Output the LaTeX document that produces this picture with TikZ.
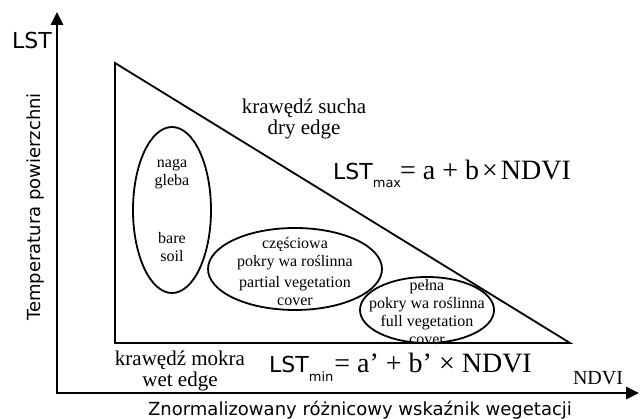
\documentclass[tikz,border=0pt]{standalone}
\usepackage{fontspec}
\setmainfont{Liberation Serif}
\setsansfont{DejaVu Sans}
\usetikzlibrary{arrows.meta,shapes.geometric}
\tikzset{
  axis/.style={line width=2.8pt,line join=miter,
    {Triangle[length=13pt,width=12pt]}-{Triangle[length=13pt,width=12pt]}},
  edgeline/.style={line width=1.8pt,line join=miter},
  zone/.style={draw,ellipse,line width=1.8pt,inner sep=0pt},
  zonetext/.style={align=center,font=\fontsize{16}{18}\selectfont},
  axislabel/.style={font=\sffamily\fontsize{18}{20}\selectfont},
  edgelabel/.style={align=center,font=\fontsize{21}{21}\selectfont},
}
\begin{document}
\begin{tikzpicture}[x=1pt,y=-1pt]
      \useasboundingbox (0,0) rectangle (640,419);
      % axes
      \coordinate (O) at (57,393);
      \coordinate (ytop) at (57,12);
      \coordinate (xend) at (639,393);
      \draw[axis] (ytop) -- (O) -- (xend);
      \node[font=\sffamily\fontsize{22}{22}\selectfont] (lst) at (32,40) {LST};
      \node[axislabel,rotate=90] (temp) at (36,207) {Temperatura powierzchni};
      \node[axislabel] (ndvilabel) at (360,410) {Znormalizowany różnicowy wskaźnik wegetacji};
      \node[font=\fontsize{20}{20}\selectfont] (ndvi) at (598,378) {NDVI};
      % triangle
      \coordinate (A) at (115,63);
      \coordinate (B) at (115,343);
      \coordinate (C) at (570,343);
      \draw[edgeline] (A) -- (B) -- (C) -- cycle;
      \node[edgelabel] (dry) at (304,119) {krawędź sucha\\dry edge};
      \node[edgelabel] (wet) at (180,371) {krawędź mokra\\wet edge};
      % formulas
      \node[anchor=base west,inner sep=0pt] (lstmax) at (333,180)
        {\sffamily\fontsize{22}{22}\selectfont LST\raisebox{-8pt}{\fontsize{13}{13}\selectfont max}\kern-1pt\rmfamily\fontsize{28}{28}\selectfont= a + b\kern3pt×\kern3pt NDVI};
      \node[anchor=base west,inner sep=0pt] (lstmin) at (269,373)
        {\sffamily\fontsize{22}{22}\selectfont LST\raisebox{-9pt}{\fontsize{13}{13}\selectfont min}\kern1pt\rmfamily\fontsize{28}{28}\selectfont= a’ + b’ × NDVI};
      % zones
      \node[zone,minimum width=78pt,minimum height=166pt] (bare) at (172,210) {};
      \node[zonetext] (baretext) at (bare) {naga\\gleba\\[40pt]bare\\soil};
      \node[zone,minimum width=174pt,minimum height=82pt] (partial) at (295,269) {};
      \node[zonetext] (partialtext) at (295,272) {częściowa\\pokry wa roślinna\\[3pt]partial vegetation\\cover};
      \node[zone,minimum width=134pt,minimum height=66pt] (full) at (427,310) {};
      \node[zonetext] (fulltext) at (427,312) {pełna\\pokry wa roślinna\\full vegetation\\cover};
    \end{tikzpicture}
\end{document}
